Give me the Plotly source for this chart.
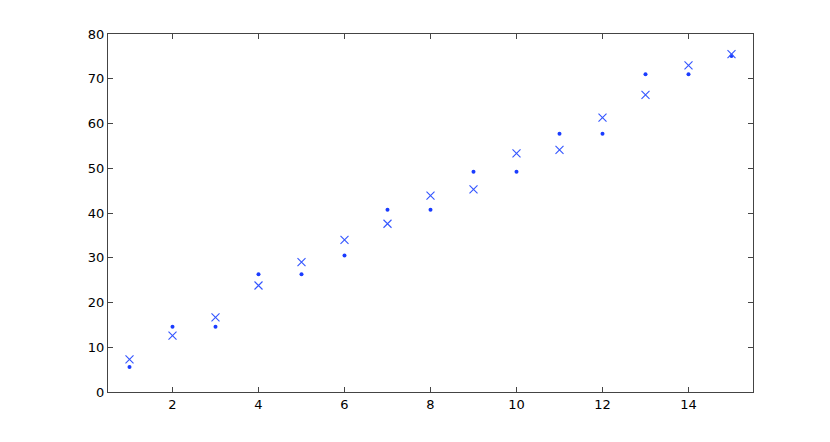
import plotly.graph_objects as go

x_vals = list(range(1, 16))
dot_vals = [5.6, 14.6, 14.6, 26.3, 26.3, 30.5, 40.7, 40.7, 49.2, 49.2, 57.7, 57.7, 71.0, 71.0, 75.1]
cross_vals = [7.3, 12.6, 16.7, 23.8, 29.0, 34.0, 37.6, 43.9, 45.3, 53.3, 54.1, 61.3, 66.4, 73.0, 75.5]
x_ticks = [2, 4, 6, 8, 10, 12, 14]
y_ticks = [0, 10, 20, 30, 40, 50, 60, 70, 80]

fig = go.Figure()
fig.add_trace(go.Scatter(
    x=x_vals, y=dot_vals, mode="markers",
    marker=dict(symbol="circle", size=4, color="#1a3cff", line=dict(width=0)),
    showlegend=False,
))
fig.add_trace(go.Scatter(
    x=x_vals, y=cross_vals, mode="markers",
    marker=dict(symbol="x-thin", size=8, color="#3355ff", line=dict(width=1.1, color="#3355ff")),
    showlegend=False,
))

axis_common = dict(
    showgrid=False, zeroline=False, showline=True, linecolor="#444444", linewidth=1,
    mirror="ticks", ticks="inside", ticklen=5, tickcolor="#444444", tickwidth=1,
    tickfont=dict(family="DejaVu Sans, Arial, sans-serif", size=13, color="black"),
)
fig.update_xaxes(range=[0.5, 15.5], tickvals=x_ticks, **axis_common)
fig.update_yaxes(range=[0, 80], tickvals=y_ticks, **axis_common)

fig.update_layout(
    width=830, height=442,
    margin=dict(l=100, r=85, t=26, b=58),
    plot_bgcolor="white", paper_bgcolor="white",
)
fig.write_html("out.html")
